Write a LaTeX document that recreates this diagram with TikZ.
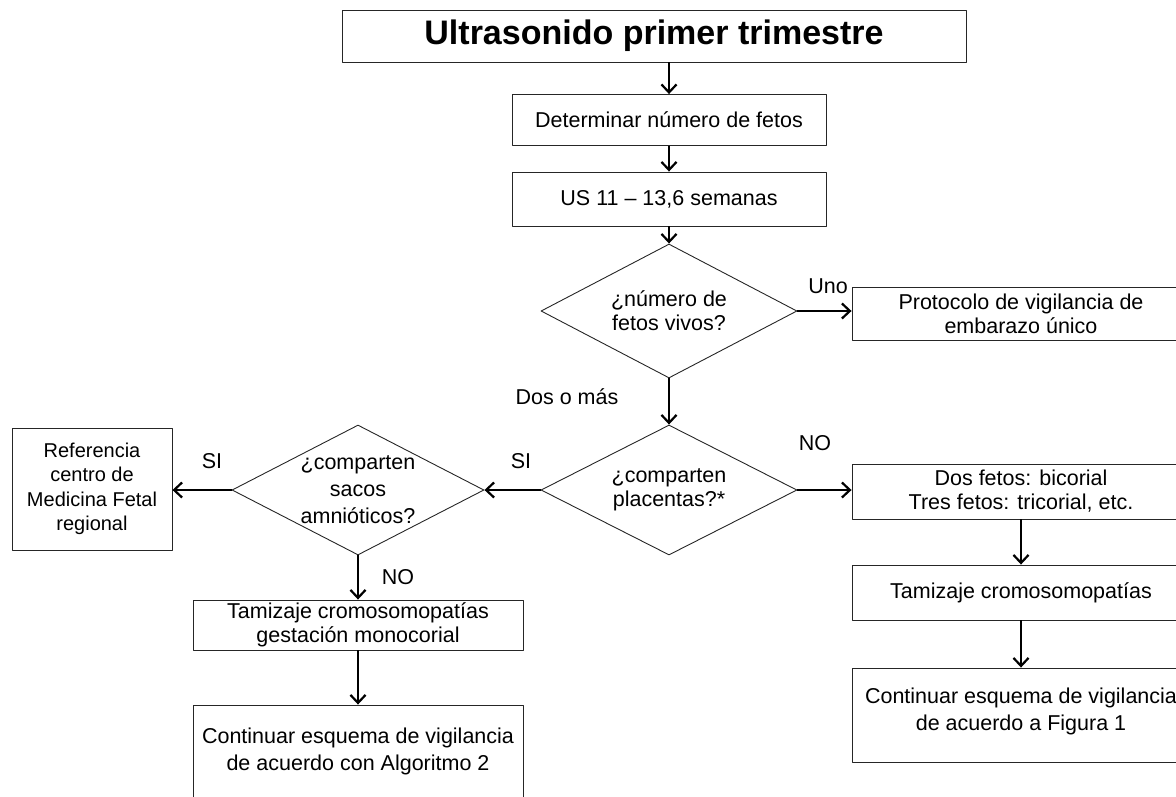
\documentclass[tikz,border=0pt]{standalone}
\usepackage{fontspec}
\setmainfont{Liberation Sans}
\usetikzlibrary{shapes.geometric,arrows.meta}
\begin{document}
\begin{tikzpicture}[x=1pt,y=-1pt,line join=round,
	font=\fontsize{21.5}{24}\selectfont,
	caja/.style={draw=black!85,line width=0.9pt,rectangle,align=center,inner sep=0pt},
	rombo/.style={draw=black!85,line width=0.9pt,diamond,aspect=1.9,align=center,inner sep=0pt},
	flecha/.style={line width=2.2pt,-{Straight Barb[length=8pt,width=15pt,line width=2.2pt]}},
	etiq/.style={inner sep=0pt}]
	
	\useasboundingbox (0,0) rectangle (1176,796);
	\clip (0,0) rectangle (1176,796);
	% Columna central
	\node[caja,minimum width=624pt,minimum height=52pt,font=\fontsize{34}{38}\selectfont\bfseries] (titulo) at (654,36) {Ultrasonido primer trimestre};
	\node[caja,minimum width=314pt,minimum height=51pt] (fetos) at (669,120) {Determinar número de fetos};
	\node[caja,minimum width=314pt,minimum height=54pt] (us) at (669,199) {US 11 -- 13,6 semanas};
	\node[rombo,minimum width=256pt,minimum height=134pt] (vivos) at (669,311) {¿número de\\fetos vivos?};
	\node[rombo,minimum width=256pt,minimum height=130pt] (placentas) at (669,490) {¿comparten\\placentas?*};
	% Rama derecha
	\node[caja,minimum width=338pt,minimum height=53pt] (unico) at (1021,313.5) {Protocolo de vigilancia de\\embarazo único};
	\node[caja,minimum width=338pt,minimum height=55pt] (bicorial) at (1021,491.5) {Dos fetos: bicorial\\Tres fetos: tricorial, etc.};
	\node[caja,minimum width=338pt,minimum height=55pt] (tamizaje) at (1021,592.5) {Tamizaje cromosomopatías};
	\node[caja,minimum width=338pt,minimum height=94pt,text depth=11pt,font=\fontsize{21.5}{27}\selectfont] (figura) at (1021,715) {Continuar esquema de vigilancia\\de acuerdo a Figura 1};
	% Rama izquierda
	\node[rombo,minimum width=252pt,minimum height=130pt,font=\fontsize{21.5}{27}\selectfont] (sacos) at (358,490) {¿comparten\\sacos\\amnióticos?};
	\node[caja,minimum width=160pt,minimum height=122pt,font=\fontsize{20}{24.5}\selectfont] (referencia) at (92,489) {Referencia\\centro de\\Medicina Fetal\\regional};
	\node[caja,minimum width=330pt,minimum height=50pt] (monocorial) at (358,625) {Tamizaje cromosomopatías\\gestación monocorial};
	\node[caja,minimum width=330pt,minimum height=92pt,font=\fontsize{21.5}{27}\selectfont] (algoritmo) at (358,751) {Continuar esquema de vigilancia\\de acuerdo con Algoritmo 2};
	% Flechas
	\draw[flecha] (titulo.south -| fetos.north) -- (fetos.north);
	\draw[flecha] (fetos) -- (us);
	\draw[flecha] (us) -- (vivos.north);
	\draw[flecha] (vivos.east) -- (vivos.east -| unico.west);
	\draw[flecha] (vivos.south) -- (placentas.north);
	\draw[flecha] (placentas.east) -- (placentas.east -| bicorial.west);
	\draw[flecha] (bicorial) -- (tamizaje);
	\draw[flecha] (tamizaje) -- (figura);
	\draw[flecha] (placentas.west) -- (sacos.east);
	\draw[flecha] (sacos.west) -- (sacos.west -| referencia.east);
	\draw[flecha] (sacos.south) -- (monocorial.north);
	\draw[flecha] (monocorial) -- (algoritmo);
	% Etiquetas
	\node[etiq] (uno) at (828,286) {Uno};
	\node[etiq] (dosomas) at (567,397) {Dos o más};
	\node[etiq] (siplac) at (521,461) {SI};
	\node[etiq] (noplac) at (815,443) {NO};
	\node[etiq] (sisacos) at (212,461) {SI};
	\node[etiq] (nosacos) at (398,577) {NO};
\end{tikzpicture}
\end{document}
